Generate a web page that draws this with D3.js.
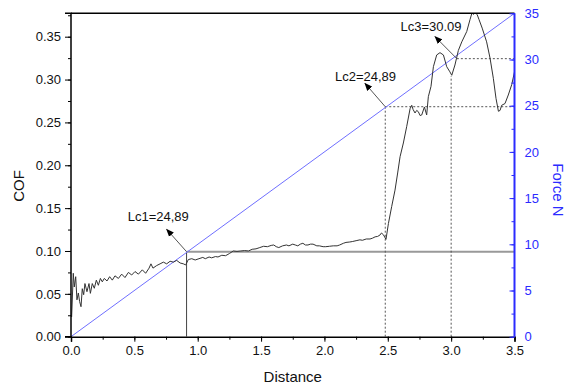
<!DOCTYPE html>
<html><head><meta charset="utf-8">
<script src="https://cdn.jsdelivr.net/npm/d3@7"></script>
<style>body{margin:0;background:#fff}svg{display:block}text{font-family:"Liberation Sans",Arial,sans-serif}</style>
</head><body><div id="chart"></div>
<script>
// ---- data ----
const cofDistance = [0.005,0.018,0.026,0.037,0.047,0.058,0.068,0.079,0.089,0.1,0.11,0.126,0.142,0.153,0.168,0.184,0.2,0.216,0.232,0.247,0.263,0.284,0.305,0.326,0.347,0.374,0.4,0.426,0.453,0.479,0.505,0.532,0.563,0.589,0.616,0.631,0.647,0.676,0.703,0.729,0.755,0.782,0.808,0.834,0.861,0.887,0.905,0.926,0.953,0.98,
1.01,1.04,1.06,1.09,1.11,1.14,1.16,1.19,1.22,1.25,1.28,1.31,1.34,1.37,1.40,1.43,1.46,1.49,1.52,1.55,1.58,1.6,1.62,1.64,1.67,1.7,1.72,1.75,1.77,1.79,1.81,1.83,1.85,1.87,1.89,1.91,1.94,1.96,1.99,2.01,2.04,2.07,2.1,2.12,2.15,2.17,2.2,2.22,2.25,2.28,2.3,2.33,2.36,2.38,2.4,2.42,
2.439,2.45,2.465,2.486,
2.505,2.531,2.557,2.578,2.597,2.623,2.649,2.676,2.689,2.7,2.715,2.728,2.741,2.755,2.768,2.789,2.807,2.82,2.841,2.86,2.886,2.912,2.939,2.965,2.99,3.005,3.03,3.057,3.084,3.123,3.149,3.165,3.175,3.19,3.205,3.22,3.245,3.28,3.307,3.333,3.354,3.373,3.386,3.399,3.425,3.451,3.478,3.5];
const cofValue = [0.023,0.074,0.058,0.07,0.043,0.051,0.041,0.035,0.056,0.049,0.062,0.0525,0.062,0.0506,0.062,0.0565,0.066,0.06,0.068,0.064,0.068,0.065,0.07,0.066,0.071,0.068,0.073,0.069,0.075,0.072,0.076,0.073,0.078,0.074,0.08,0.085,0.08,0.083,0.085,0.087,0.085,0.088,0.087,0.089,0.086,0.085,0.0837,0.09,0.091,0.0895,
0.091,0.0925,0.091,0.093,0.092,0.0935,0.093,0.095,0.0945,0.097,0.1,0.0995,0.1,0.1005,0.1,0.102,0.1025,0.104,0.1055,0.105,0.1065,0.107,0.105,0.104,0.106,0.107,0.106,0.108,0.107,0.106,0.108,0.109,0.107,0.107,0.108,0.108,0.106,0.106,0.105,0.105,0.1055,0.106,0.106,0.107,0.109,0.11,0.1105,0.111,0.112,0.113,0.1125,0.114,0.114,0.115,0.1165,0.117,
0.1187,0.121,0.119,0.1136,
0.132,0.152,0.171,0.191,0.21,0.226,0.245,0.266,0.27,0.265,0.261,0.264,0.2625,0.258,0.2587,0.268,0.2587,0.28,0.292,0.315,0.3287,0.3314,0.3287,0.315,0.309,0.305,0.317,0.334,0.344,0.356,0.37,0.378,0.376,0.378,0.376,0.37,0.36,0.344,0.325,0.3015,0.278,0.263,0.264,0.27,0.272,0.282,0.294,0.309];
const forceDistance = [0, 3.5];
const forceValue = [0, 35];
const lcLabels = ["Lc1=24,89", "Lc2=24,89", "Lc3=30.09"];
const lcVertX = [0.912, 2.48, 3.0];        // vertical guide distance
const lcVertTopForce = [9.2, 24.89, 28.2]; // vertical guide top (force units)
const lcHorzStart = [0.912, 2.48, 3.045];  // horizontal guide start distance
const lcForce = [9.2, 24.89, 30.09];       // horizontal guide force level
const lcArrowTipX = [0.755, 2.32, 2.873];
const lcArrowTipF = [11.62, 27.42, 32.47];
const lcLabelX = [0.689, 2.324, 2.841];
const lcLabelF = [12.52, 27.62, 33.08];
const xTicks = [0,0.5,1.0,1.5,2.0,2.5,3.0,3.5];
const cofTicks = [0,0.05,0.1,0.15,0.2,0.25,0.3,0.35];
const forceTicks = [0,5,10,15,20,25,30,35];

// ---- layout ----
const W = 566, H = 385;
const m = {left:71, right:51.5, top:13.3, bottom:48.3};
const svg = d3.select("#chart").append("svg").attr("width",W).attr("height",H);
const x = d3.scaleLinear().domain([0,3.5]).range([m.left, W-m.right]);
const yC = d3.scaleLinear().domain([0,0.3773]).range([H-m.bottom, m.top]);
const yF = d3.scaleLinear().domain([0,35]).range([H-m.bottom, m.top]);

svg.append("defs").append("clipPath").attr("id","clip").append("rect")
  .attr("x",m.left).attr("y",m.top).attr("width",W-m.left-m.right).attr("height",H-m.top-m.bottom);
const marker = svg.select("defs").append("marker").attr("id","arr").attr("viewBox","0 0 10 10")
  .attr("refX",9).attr("refY",5).attr("markerWidth",8).attr("markerHeight",8).attr("orient","auto")
  .attr("markerUnits","userSpaceOnUse");
marker.append("path").attr("d","M0,1 L10,5 L0,9 Z").attr("fill","#000");

const g = svg.append("g").attr("clip-path","url(#clip)");

// guides
lcLabels.forEach((lab,i)=>{
  const dash = i===0 ? null : "2,2";
  g.append("line").attr("x1",x(lcVertX[i])).attr("x2",x(lcVertX[i]))
    .attr("y1",yF(0)).attr("y2",yF(lcVertTopForce[i]))
    .attr("stroke", i===0?"#444":"#555").attr("stroke-width",1).attr("stroke-dasharray",dash);
  g.append("line").attr("x1",x(lcHorzStart[i])).attr("x2",x(3.5))
    .attr("y1",yF(lcForce[i])).attr("y2",yF(lcForce[i]))
    .attr("stroke", i===0?"#999":"#555").attr("stroke-width", i===0?2:1).attr("stroke-dasharray",dash);
});

// force line
const forcePts = forceDistance.map((d,i)=>[d,forceValue[i]]);
g.append("path").datum(forcePts).attr("fill","none").attr("stroke","#6f6fff").attr("stroke-width",1)
  .attr("d", d3.line().x(d=>x(d[0])).y(d=>yF(d[1])));

// COF curve
const cofPts = cofDistance.map((d,i)=>[d,cofValue[i]]);
g.append("path").datum(cofPts).attr("fill","none").attr("stroke","#333").attr("stroke-width",1)
  .attr("stroke-linejoin","round")
  .attr("d", d3.line().x(d=>x(d[0])).y(d=>yC(d[1])));

// arrows and labels
lcLabels.forEach((lab,i)=>{
  svg.append("line").attr("x1",x(lcHorzStart[i])).attr("y1",yF(lcForce[i]))
    .attr("x2",x(lcArrowTipX[i])).attr("y2",yF(lcArrowTipF[i]))
    .attr("stroke","#555").attr("stroke-width",1).attr("marker-end","url(#arr)");
  svg.append("text").attr("x",x(lcLabelX[i])).attr("y",yF(lcLabelF[i]))
    .attr("text-anchor","middle").attr("font-size",13).attr("fill","#111").text(lab);
});

// axes
const fs = 13;
const xMinor = d3.range(0,3.51,0.25);
svg.append("g").attr("transform",`translate(0,${H-m.bottom})`)
  .call(d3.axisBottom(x).tickValues(xMinor).tickSize(3).tickFormat(""))
  .call(a=>a.select(".domain").remove()).selectAll("line").attr("stroke","#000");
const xa = svg.append("g").attr("transform",`translate(0,${H-m.bottom})`)
  .call(d3.axisBottom(x).tickValues(xTicks).tickSize(5).tickPadding(4).tickFormat(d3.format(".1f")));
xa.select(".domain").attr("stroke","#000").attr("stroke-width",1.5);
xa.selectAll("text").attr("font-size",fs).attr("fill","#111").style("font-family",'"Liberation Sans",Arial,sans-serif');

const cMinor = d3.range(0,0.376,0.025);
svg.append("g").attr("transform",`translate(${m.left},0)`)
  .call(d3.axisLeft(yC).tickValues(cMinor).tickSize(3).tickFormat(""))
  .call(a=>a.select(".domain").remove()).selectAll("line").attr("stroke","#000");
const ya = svg.append("g").attr("transform",`translate(${m.left},0)`)
  .call(d3.axisLeft(yC).tickValues(cofTicks).tickSize(6).tickPadding(4).tickFormat(d3.format(".2f")));
ya.select(".domain").attr("stroke","#000").attr("stroke-width",1.5).attr("d",`M-6,${yC(0)}H0V${m.top}H-6`);
ya.selectAll("text").attr("font-size",fs).attr("fill","#111").style("font-family",'"Liberation Sans",Arial,sans-serif');

// top border
svg.append("line").attr("x1",m.left).attr("x2",W-m.right).attr("y1",m.top).attr("y2",m.top)
  .attr("stroke","#000").attr("stroke-width",1.5);

const blue = "#2b2bff";
const fMinor = d3.range(0,35.1,2.5);
svg.append("g").attr("transform",`translate(${W-m.right},0)`)
  .call(d3.axisRight(yF).tickValues(fMinor).tickSize(-3).tickFormat(""))
  .call(a=>a.select(".domain").remove()).selectAll("line").attr("stroke",blue);
const ra = svg.append("g").attr("transform",`translate(${W-m.right},0)`)
  .call(d3.axisRight(yF).tickValues(forceTicks).tickSize(-5).tickPadding(10).tickFormat(d3.format("d")));
ra.select(".domain").attr("stroke",blue).attr("stroke-width",2).attr("d",`M0,${yF(0)}V${m.top}`);
ra.selectAll("line").attr("stroke",blue);
ra.selectAll("text").attr("font-size",fs).attr("fill",blue).style("font-family",'"Liberation Sans",Arial,sans-serif');

// titles
svg.append("text").attr("x",(m.left+W-m.right)/2).attr("y",382).attr("text-anchor","middle")
  .attr("font-size",15).attr("fill","#111").text("Distance");
svg.append("text").attr("transform","translate(24,186) rotate(-90)").attr("text-anchor","middle")
  .attr("font-size",15).attr("fill","#111").text("COF");
svg.append("text").attr("transform","translate(553,190) rotate(90)").attr("text-anchor","middle")
  .attr("font-size",15).attr("fill",blue).text("Force N");
</script></body></html>
